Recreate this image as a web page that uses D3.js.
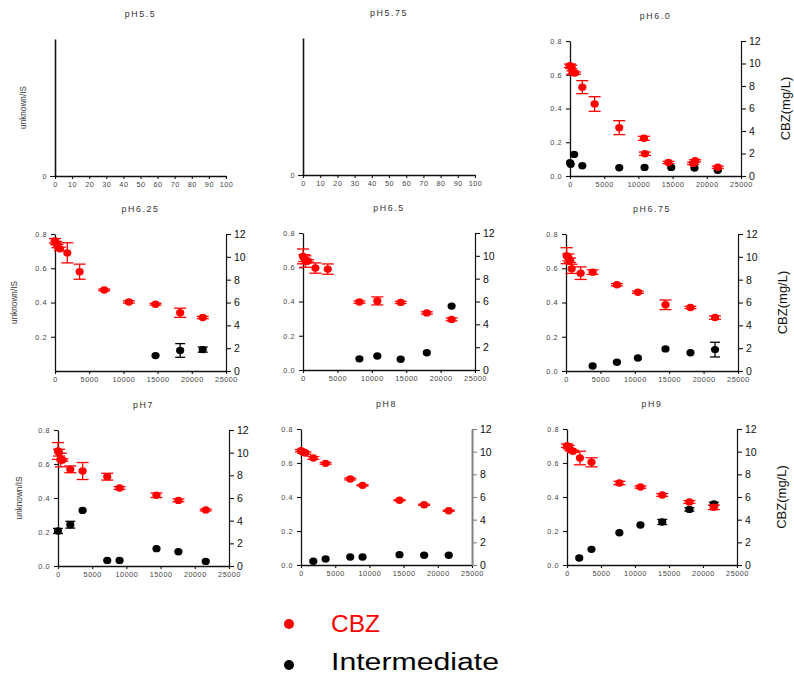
<!DOCTYPE html>
<html>
<head>
<meta charset="utf-8">
<script src="https://cdn.jsdelivr.net/npm/d3@7"></script>
<style>
  html, body { margin: 0; padding: 0; background: #fff; }
  svg { display: block; }
</style>
</head>
<body>
<svg id="chart" width="794" height="676"></svg>
<script>
// ---- Data: time (s), CBZ concentration (mg/L, right axis), intermediate peak ratio (unknown/IS, left axis) ----
const xTicksTime = [0, 5000, 10000, 15000, 20000, 25000];
const xTicksEmpty = [0, 10, 20, 30, 40, 50, 60, 70, 80, 90, 100];
const leftTicks = [0, 0.2, 0.4, 0.6, 0.8];
const rightTicks = [0, 2, 4, 6, 8, 10, 12];

// pH 6.0
const t60_cbz = [0, 180, 360, 720, 1800, 3600, 7200, 10800, 10950, 14400, 18000, 18300, 21600];
const cbz60    = [9.8, 9.7, 9.2, 9.15, 7.9, 6.4, 4.3, 3.35, 1.98, 1.2, 1.12, 1.35, 0.78];
const cbz60_sd = [0.15, 0.15, 0.15, 0.1, 0.58, 0.65, 0.62, 0.18, 0.15, 0.1, 0.1, 0.1, 0.1];
const t60_int = [0, 100, 600, 1800, 7200, 10900, 14800, 18200, 21600];
const int60    = [0.079, 0.07, 0.128, 0.061, 0.049, 0.051, 0.051, 0.047, 0.034];
const int60_sd = [0, 0, 0, 0, 0, 0, 0, 0, 0];

// pH 6.25
const t625_cbz = [0, 180, 360, 720, 1800, 3600, 7200, 10800, 14700, 18300, 21600];
const cbz625    = [11.4, 11.2, 10.95, 10.7, 10.35, 8.7, 7.1, 6.05, 5.85, 5.1, 4.68];
const cbz625_sd = [0.2, 0.15, 0.15, 0.15, 0.88, 0.66, 0.08, 0.1, 0.08, 0.4, 0.1];
const t625_int = [14700, 18300, 21600];
const int625    = [0.09, 0.12, 0.125];
const int625_sd = [0, 0.04, 0.015];

// pH 6.5
const t65_cbz = [0, 180, 360, 720, 1800, 3600, 8200, 10800, 14200, 18000, 21600];
const cbz65    = [9.95, 9.8, 9.5, 9.55, 8.93, 8.84, 5.95, 6.05, 5.92, 5.0, 4.43];
const cbz65_sd = [0.65, 0.3, 0.5, 0.1, 0.45, 0.45, 0.1, 0.35, 0.1, 0.1, 0.12];
const t65_int = [8200, 10800, 14200, 18000, 21600];
const int65    = [0.065, 0.082, 0.063, 0.101, 0.373];
const int65_sd = [0, 0, 0, 0, 0];

// pH 6.75
const t675_cbz = [100, 340, 580, 820, 2130, 3870, 7400, 10450, 14460, 18090, 21660];
const cbz675    = [10.1, 9.95, 9.7, 8.95, 8.57, 8.66, 7.55, 6.9, 5.8, 5.56, 4.68];
const cbz675_sd = [0.7, 0.3, 0.2, 0.4, 0.55, 0.2, 0.1, 0.1, 0.42, 0.1, 0.15];
const t675_int = [3870, 7400, 10450, 14460, 18090, 21660];
const int675    = [0.029, 0.051, 0.076, 0.129, 0.107, 0.125];
const int675_sd = [0, 0, 0, 0, 0, 0.043];

// pH 7
const t7_cbz = [0, 150, 400, 650, 1800, 3600, 7200, 9000, 14400, 17600, 21600];
const cbz7    = [10.15, 10.0, 9.35, 9.35, 8.53, 8.38, 7.88, 6.88, 6.24, 5.79, 4.94];
const cbz7_sd = [0.74, 0.3, 0.6, 0.1, 0.3, 0.75, 0.3, 0.12, 0.2, 0.12, 0.08];
const t7_int = [0, 1800, 3600, 7200, 9000, 14400, 17600, 21600];
const int7    = [0.206, 0.243, 0.327, 0.033, 0.033, 0.102, 0.084, 0.027];
const int7_sd = [0.015, 0.02, 0, 0, 0, 0, 0, 0];

// pH 8
const t8_cbz = [0, 300, 640, 1800, 3600, 7200, 9000, 14400, 18000, 21600];
const cbz8    = [10.09, 9.97, 9.88, 9.44, 8.97, 7.59, 7.03, 5.71, 5.32, 4.79];
const cbz8_sd = [0.1, 0.1, 0.1, 0.12, 0.08, 0.08, 0.05, 0.05, 0.05, 0.05];
const t8_int = [1800, 3600, 7200, 9000, 14400, 18000, 21600];
const int8    = [0.022, 0.035, 0.047, 0.047, 0.061, 0.057, 0.057];
const int8_sd = [0, 0, 0, 0, 0, 0, 0];

// pH 9
const t9_cbz = [0, 250, 500, 880, 1900, 3600, 7700, 10800, 14000, 18000, 21600];
const cbz9    = [10.53, 10.41, 10.18, 10.03, 9.44, 9.06, 7.24, 6.88, 6.18, 5.56, 5.09];
const cbz9_sd = [0.15, 0.15, 0.1, 0.1, 0.6, 0.4, 0.15, 0.1, 0.12, 0.12, 0.2];
const t9_int = [1800, 3600, 7700, 10800, 14000, 18000, 21600];
const int9    = [0.041, 0.092, 0.19, 0.235, 0.253, 0.327, 0.359];
const int9_sd = [0, 0, 0, 0, 0.015, 0.01, 0.01];

// ---- Panel grid ----
const panels = [
  { title: "pH5.5",  empty: true, box: [55, 226, 39, 176],  yTitle: 24 },
  { title: "pH5.75", empty: true, box: [303, 475, 38, 175] },
  { title: "pH6.0",  box: [570, 741, 41, 176], rTitle: true,
    cbz: [t60_cbz, cbz60, cbz60_sd], int: [t60_int, int60, int60_sd] },
  { title: "pH6.25", box: [55, 226, 234, 371], yTitle: 15, noZero: true,
    cbz: [t625_cbz, cbz625, cbz625_sd], int: [t625_int, int625, int625_sd] },
  { title: "pH6.5",  box: [303, 475, 233, 370],
    cbz: [t65_cbz, cbz65, cbz65_sd], int: [t65_int, int65, int65_sd] },
  { title: "pH6.75", box: [566, 738, 234, 371], rTitle: true,
    cbz: [t675_cbz, cbz675, cbz675_sd], int: [t675_int, int675, int675_sd] },
  { title: "pH7",    box: [58, 229, 430, 566], yTitle: 20,
    cbz: [t7_cbz, cbz7, cbz7_sd], int: [t7_int, int7, int7_sd] },
  { title: "pH8",    box: [301, 472, 429, 565], greyRight: true,
    cbz: [t8_cbz, cbz8, cbz8_sd], int: [t8_int, int8, int8_sd] },
  { title: "pH9",    box: [567, 737, 429, 565], rTitle: true,
    cbz: [t9_cbz, cbz9, cbz9_sd], int: [t9_int, int9, int9_sd] }
];

const RED = "#ff0000";
const svg = d3.select("#chart");
const tickFont = "Liberation Sans, Arial, sans-serif";

function styleSmallAxis(g) {
  g.select(".domain").attr("stroke", "#111").attr("stroke-width", 1.3);
  g.selectAll(".tick line").attr("stroke", "#111").attr("stroke-width", 1.1);
  g.selectAll(".tick text")
    .attr("font-family", tickFont).attr("font-size", 7.3)
    .attr("letter-spacing", 0.5).attr("fill", "#444");
}

function drawSeries(g, xs, ys, pts, color, capHalf, r) {
  const [t, v, sd] = pts;
  const rows = t.map((d, i) => ({ t: d, v: v[i], sd: sd[i] }));
  const eb = g.append("g").attr("stroke", color).attr("stroke-width", 1.3).attr("fill", "none");
  rows.filter(d => d.sd > 0).forEach(d => {
    const x = xs(d.t), yl = ys(d.v - d.sd), yh = ys(d.v + d.sd);
    eb.append("line").attr("x1", x).attr("x2", x).attr("y1", yl).attr("y2", yh);
    eb.append("line").attr("x1", x - capHalf).attr("x2", x + capHalf).attr("y1", yl).attr("y2", yl);
    eb.append("line").attr("x1", x - capHalf).attr("x2", x + capHalf).attr("y1", yh).attr("y2", yh);
  });
  g.append("g").selectAll("ellipse").data(rows).join("ellipse")
    .attr("cx", d => xs(d.t)).attr("cy", d => ys(d.v))
    .attr("rx", r + 0.4).attr("ry", r).attr("fill", color);
}

panels.forEach(p => {
  const [x0, x1, y0, y1] = p.box;
  const g = svg.append("g");

  // panel title
  g.append("text")
    .attr("x", (x0 + x1) / 2).attr("y", y0 - 22)
    .attr("text-anchor", "middle")
    .attr("font-family", tickFont).attr("font-size", 8.8)
    .attr("letter-spacing", 1.6).attr("fill", "#333")
    .text(p.title);

  if (p.yTitle !== undefined) {
    g.append("text")
      .attr("transform", `translate(${p.yTitle},${(y0 + y1) / 2}) rotate(-90)`)
      .attr("text-anchor", "middle").attr("dominant-baseline", "middle")
      .attr("font-family", tickFont).attr("font-size", 8.2)
      .attr("fill", "#333")
      .text("unknown/IS");
  }

  if (p.empty) {
    const xs = d3.scaleLinear().domain([0, 100]).range([x0, x1]);
    const ys = d3.scaleLinear().domain([0, 1]).range([y1, y0]);
    g.append("g").attr("transform", `translate(0,${y1})`)
      .call(d3.axisBottom(xs).tickValues(xTicksEmpty).tickSize(3).tickSizeOuter(0).tickPadding(3))
      .call(styleSmallAxis);
    g.append("g").attr("transform", `translate(${x0},0)`)
      .call(d3.axisLeft(ys).tickValues([0]).tickFormat(d3.format("d")).tickSize(5).tickSizeOuter(0).tickPadding(3))
      .call(styleSmallAxis)
      .call(a => a.select(".domain").attr("stroke-width", 1.6));
    return;
  }

  const xs = d3.scaleLinear().domain([0, 25000]).range([x0, x1]);
  const yL = d3.scaleLinear().domain([0, 0.8]).range([y1, y0]);
  const yR = d3.scaleLinear().domain([0, 12]).range([y1, y0]);

  g.append("g").attr("transform", `translate(0,${y1})`)
    .call(d3.axisBottom(xs).tickValues(xTicksTime).tickFormat(d3.format("d")).tickSize(3).tickSizeOuter(0).tickPadding(3))
    .call(styleSmallAxis);

  g.append("g").attr("transform", `translate(${x0},0)`)
    .call(d3.axisLeft(yL).tickValues(p.noZero ? leftTicks.slice(1) : leftTicks)
      .tickFormat(d3.format(".1f")).tickSize(4).tickSizeOuter(0).tickPadding(4))
    .call(styleSmallAxis);

  const rAxis = g.append("g").attr("transform", `translate(${x1},0)`)
    .call(d3.axisRight(yR).tickValues(rightTicks).tickFormat(d3.format("d")).tickSize(5).tickSizeOuter(0).tickPadding(3));
  const rCol = p.greyRight ? "#808080" : "#111";
  rAxis.select(".domain").attr("stroke", rCol).attr("stroke-width", p.greyRight ? 2 : 1.2);
  rAxis.selectAll(".tick line").attr("stroke", rCol).attr("stroke-width", 1.1);
  rAxis.selectAll(".tick text").attr("font-family", tickFont).attr("font-size", 10.5).attr("fill", "#111");

  if (p.rTitle) {
    g.append("text")
      .attr("transform", `translate(${x1 + 46},${(y0 + y1) / 2}) rotate(-90)`)
      .attr("text-anchor", "middle").attr("dominant-baseline", "middle")
      .attr("font-family", tickFont).attr("font-size", 13)
      .attr("fill", "#111")
      .text("CBZ(mg/L)");
  }

  drawSeries(g, xs, yL, p.int, "#000", 5, 3.7);
  drawSeries(g, xs, yR, p.cbz, RED, 6, 3.7);
});

// ---- Legend ----
const legendItems = [
  { label: "CBZ", color: RED, cy: 624, base: 632, len: 49 },
  { label: "Intermediate", color: "#000", cy: 665, base: 670, len: 168 }
];
const lg = svg.append("g");
legendItems.forEach(d => {
  lg.append("circle").attr("cx", 289).attr("cy", d.cy).attr("r", 5).attr("fill", d.color);
  lg.append("text").attr("x", 331).attr("y", d.base)
    .attr("font-family", "Liberation Sans, Arial, sans-serif").attr("font-size", 23)
    .attr("textLength", d.len).attr("lengthAdjust", "spacingAndGlyphs")
    .attr("fill", d.color).text(d.label);
});
</script>
</body>
</html>
